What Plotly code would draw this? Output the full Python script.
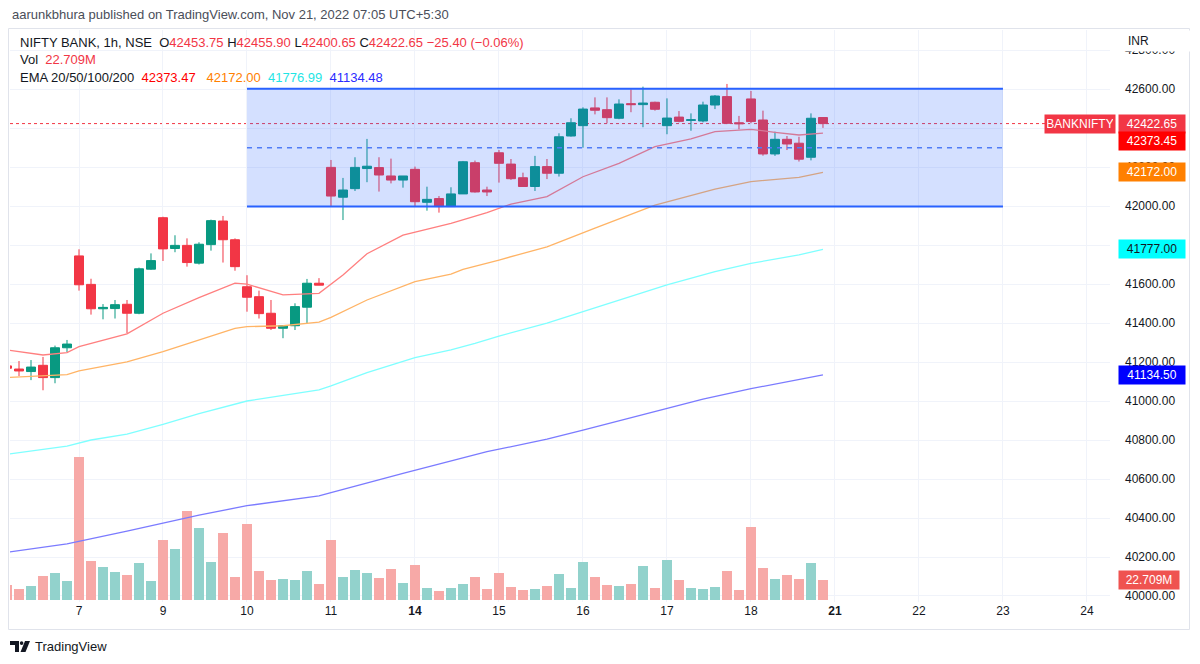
import plotly.graph_objects as go

# ---------------- data ----------------
day_labels = ["7", "9", "10", "11", "<b>14</b>", "15", "16", "17", "18", "<b>21</b>", "22", "23", "24"]
day_first_bar = [6, 13, 20, 27, 34, 41, 48, 55, 62, 69, 76, 83, 90]

opens = [41180, 41164, 41151, 41183, 41120, 41273,
         41744, 41598, 41473, 41474, 41496, 41450, 41676,
         41940, 41782, 41798, 41707, 41802, 41923, 41827,
         41586, 41535, 41450, 41373, 41386, 41481, 41604,
         42198, 42045, 42089, 42192, 42197, 42154, 42133,
         42188, 42019, 42038, 41997, 42062, 42222, 42082,
         42273, 42215, 42145, 42100, 42202, 42168, 42359,
         42412, 42503, 42494, 42450, 42525, 42520, 42532,
         42412, 42456, 42439, 42436, 42518, 42561, 42427,
         42549, 42441, 42267, 42342, 42322, 42250, 42453.75]
highs = [41195, 41205, 41210, 41226, 41284, 41313,
         41778, 41627, 41497, 41518, 41518, 41684, 41757,
         41945, 41850, 41834, 41814, 41930, 41949, 41834,
         41645, 41566, 41518, 41386, 41501, 41626, 41630,
         42236, 42144, 42250, 42344, 42250, 42243, 42154,
         42202, 42099, 42051, 42096, 42231, 42233, 42099,
         42287, 42241, 42171, 42257, 42241, 42373, 42450,
         42506, 42557, 42557, 42547, 42598, 42612, 42535,
         42552, 42487, 42475, 42535, 42569, 42626, 42462,
         42590, 42489, 42381, 42359, 42355, 42475, 42455.90]
lows = [41160, 41128, 41107, 41055, 41091, 41251,
        41566, 41443, 41419, 41423, 41347, 41445, 41672,
        41718, 41763, 41689, 41700, 41771, 41710, 41668,
        41458, 41423, 41364, 41322, 41364, 41398, 41594,
        41996, 41928, 42077, 42122, 42074, 42116, 42094,
        42000, 41976, 41966, 41997, 42062, 42069, 42051,
        42120, 42134, 42100, 42077, 42138, 42151, 42356,
        42299, 42470, 42424, 42445, 42481, 42404, 42489,
        42368, 42429, 42386, 42429, 42497, 42420, 42393,
        42424, 42258, 42257, 42287, 42228, 42234, 42400.65]
closes = [41168, 41154, 41174, 41120, 41273, 41292,
          41596, 41473, 41480, 41494, 41450, 41678, 41720,
          41780, 41798, 41710, 41804, 41925, 41827, 41689,
          41532, 41448, 41373, 41386, 41484, 41604, 41594,
          42051, 42082, 42198, 42204, 42159, 42133, 42154,
          42022, 42034, 41997, 42062, 42227, 42072, 42072,
          42219, 42140, 42100, 42202, 42168, 42355, 42427,
          42497, 42491, 42453, 42523, 42520, 42528, 42496,
          42451, 42434, 42442, 42518, 42564, 42424, 42422,
          42433, 42267, 42342, 42318, 42240, 42450, 42422.65]
volume_m = [16.7, 12.1, 15.9, 27.3, 30.7, 21.6,
            162.7, 44.3, 37.5, 31.8, 28.0, 41.6, 21.6,
            68.5, 57.5, 100.7, 82.1, 42.8, 75.7, 26.1,
            85.9, 33.3, 22.3, 24.2, 22.3, 33.3, 18.5,
            68.5, 26.1, 34.1, 30.7, 25.0, 35.2, 19.3,
            39.5, 13.2, 10.6, 14.0, 18.5, 26.1, 12.5,
            31.0, 15.1, 11.4, 12.0, 15.9, 29.9, 13.2,
            42.7, 26.1, 17.0, 15.9, 17.7, 39.0, 13.2,
            45.4, 22.7, 14.0, 12.0, 15.1, 32.5, 11.4,
            83.2, 36.3, 23.4, 28.7, 23.4, 42.0, 22.709]

ema20_idx = [0, 3, 5, 6, 10, 13, 16, 19, 20, 23, 26, 27, 28, 30, 33, 37, 40, 42, 45, 48, 51, 54, 57, 59, 62, 64, 66, 68]
ema20_val = [41262, 41236, 41248, 41279, 41344, 41450, 41530, 41604, 41599, 41544, 41552, 41600, 41646, 41755,
             41851, 41911, 41966, 42010, 42048, 42150, 42219, 42304, 42344, 42381, 42393, 42378, 42364, 42373.47]
ema50_idx = [0, 5, 6, 10, 13, 16, 19, 20, 23, 26, 27, 30, 34, 37, 38, 41, 45, 49, 54, 59, 62, 66, 68]
ema50_val = [41120, 41135, 41155, 41201, 41253, 41313, 41373, 41381, 41386, 41404, 41429, 41518, 41612,
             41651, 41675, 41723, 41791, 41887, 42005, 42086, 42125, 42147, 42172.00]
ema100_idx = [0, 5, 7, 10, 13, 16, 20, 23, 26, 27, 30, 34, 37, 39, 41, 45, 49, 55, 59, 62, 66, 68]
ema100_val = [40727, 40769, 40800, 40830, 40880, 40935, 41000, 41030, 41057, 41077, 41145, 41222, 41262,
              41296, 41333, 41399, 41479, 41595, 41663, 41706, 41749, 41776.99]
ema200_idx = [0, 5, 10, 16, 20, 26, 27, 33, 40, 45, 48, 55, 58, 62, 68]
ema200_val = [40224, 40267, 40333, 40415, 40463, 40513, 40530, 40629, 40740, 40804, 40851, 40963, 41009,
              41063, 41134.48]

channel_start, channel_end = 20, 83
channel_low, channel_high = 41997, 42601
last_price = 42422.65

# ---------------- geometry helpers (layout only) ----------------
PL, PR, PT, PB = 10, 1110, 30, 602


def px_x(px):
    return (px - PL) / (PR - PL)


def px_y(py):
    return (PB - py) / (PB - PT)


UP, DOWN = "#089981", "#F23645"
FONT = "Liberation Sans, Arial, sans-serif"
TXT = "#131722"

bar_idx = list(range(len(opens)))
vol_colors = ["#92D2CC" if c >= o else "#F7A9A7" for o, c in zip(opens, closes)]

fig = go.Figure()

# volume (base axis, drawn underneath)
fig.add_trace(go.Bar(x=bar_idx, y=volume_m, marker=dict(color=vol_colors, line=dict(width=0)),
                     width=0.85, yaxis="y", hoverinfo="skip", showlegend=False))

# EMA lines
for idx, val, col in [(ema200_idx, ema200_val, "#7B7BFF"),
                      (ema100_idx, ema100_val, "#7FFFFF"),
                      (ema50_idx, ema50_val, "#FFB466"),
                      (ema20_idx, ema20_val, "#FF7F7F")]:
    fig.add_trace(go.Scatter(x=idx, y=val, mode="lines", line=dict(color=col, width=1.3),
                             yaxis="y2", hoverinfo="skip", showlegend=False))

# parallel channel
fig.add_trace(go.Scatter(x=[channel_start, channel_end], y=[channel_low, channel_low], mode="lines",
                         line=dict(color="#2962FF", width=2), yaxis="y2", hoverinfo="skip", showlegend=False))
fig.add_trace(go.Scatter(x=[channel_start, channel_end], y=[channel_high, channel_high], mode="lines",
                         line=dict(color="#2962FF", width=2), fill="tonexty",
                         fillcolor="rgba(41,98,255,0.2)", yaxis="y2", hoverinfo="skip", showlegend=False))
mid = (channel_low + channel_high) / 2
fig.add_trace(go.Scatter(x=[channel_start, channel_end], y=[mid, mid], mode="lines",
                         line=dict(color="#4F7CF7", width=1.5, dash="5px,5px"), yaxis="y2",
                         hoverinfo="skip", showlegend=False))

# candles
fig.add_trace(go.Candlestick(x=bar_idx, open=opens, high=highs, low=lows, close=closes,
                             increasing=dict(line=dict(color=UP, width=1), fillcolor=UP),
                             decreasing=dict(line=dict(color=DOWN, width=1), fillcolor=DOWN),
                             whiskerwidth=0, yaxis="y2", hoverinfo="skip", showlegend=False))

shapes = [
    dict(type="line", xref="paper", x0=0, x1=1, yref="y2", y0=last_price, y1=last_price,
         line=dict(color=DOWN, width=1, dash="dot"), layer="below"),
    # outer frame
    dict(type="rect", xref="paper", yref="paper", x0=px_x(8.5), x1=px_x(1189.5), y0=px_y(629.5),
         y1=px_y(28.5), line=dict(color="#E0E3EB", width=1), fillcolor="rgba(0,0,0,0)"),
]


# TradingView logo
def pth(points):
    s = "M " + " L ".join(f"{px_x(a):.5f},{px_y(b):.5f}" for a, b in points) + " Z"
    return s


shapes.append(dict(type="path", xref="paper", yref="paper",
                   path=pth([(10, 641), (19, 641), (19, 652), (15, 652), (15, 645), (10, 645)]),
                   fillcolor=TXT, line=dict(width=0)))
shapes.append(dict(type="circle", xref="paper", yref="paper", x0=px_x(19.8), x1=px_x(23.4),
                   y0=px_y(645), y1=px_y(641.2), fillcolor=TXT, line=dict(width=0)))
shapes.append(dict(type="path", xref="paper", yref="paper",
                   path=pth([(25, 641), (30, 641), (25.5, 652), (20.5, 652)]),
                   fillcolor=TXT, line=dict(width=0)))

annotations = []


def red(s):
    return f"<span style='color:{DOWN}'>{s}</span>"


nb = "\u00a0"
annotations.append(dict(xref="paper", yref="paper", x=px_x(10), y=px_y(15), xanchor="left", yanchor="middle",
                        showarrow=False, font=dict(size=13, color="#4A4E59", family=FONT),
                        text="aarunkbhura published on TradingView.com, Nov 21, 2022 07:05 UTC+5:30"))
line1 = ("NIFTY BANK, 1h, NSE" + nb * 2 + "O" + red("42453.75") + nb + "H" + red("42455.90") + nb + "L"
         + red("42400.65") + nb + "C" + red("42422.65") + nb + red("\u221225.40 (\u22120.06%)"))
annotations.append(dict(xref="paper", yref="paper", x=px_x(18), y=px_y(43), xanchor="left", yanchor="middle",
                        showarrow=False, font=dict(size=13, color=TXT, family=FONT), text=line1))
annotations.append(dict(xref="paper", yref="paper", x=px_x(18), y=px_y(60), xanchor="left", yanchor="middle",
                        showarrow=False, font=dict(size=13, color=TXT, family=FONT),
                        text="Vol" + nb * 2 + red("22.709M")))
line3 = ("EMA 20/50/100/200" + nb * 2 + "<span style='color:#FF0000'>42373.47</span>" + nb * 3
         + "<span style='color:#FF8000'>42172.00</span>" + nb * 2
         + "<span style='color:#1FE5E5'>41776.99</span>" + nb * 2
         + "<span style='color:#2B2BFF'>41134.48</span>")
annotations.append(dict(xref="paper", yref="paper", x=px_x(18), y=px_y(77), xanchor="left", yanchor="middle",
                        showarrow=False, font=dict(size=13, color=TXT, family=FONT), text=line3))

# INR label (covers the clipped top tick)
annotations.append(dict(xref="paper", yref="paper", x=px_x(1124), y=px_y(41), xanchor="left", yanchor="middle",
                        showarrow=False, font=dict(size=12, color=TXT, family=FONT), text="INR",
                        bgcolor="white", width=62, align="left", borderpad=3))


# price-scale labels
def scale_label(text, yval, bg, fg="white", yref="y2", yshift=0, width=62):
    return dict(xref="paper", yref=yref, x=px_x(1118), y=yval, xanchor="left", yanchor="middle",
                showarrow=False, text=text, bgcolor=bg, font=dict(size=12, color=fg, family=FONT),
                width=width, height=14, borderpad=2, yshift=yshift, align="center")


annotations.append(dict(xref="paper", yref="y2", x=px_x(1116), y=last_price, xanchor="right", yanchor="middle",
                        showarrow=False, text="BANKNIFTY", bgcolor=DOWN,
                        font=dict(size=12, color="white", family=FONT), width=66, height=14, borderpad=2))
annotations.append(scale_label("42422.65", last_price, DOWN))
annotations.append(scale_label("42373.45", ema20_val[-1], "#FF0000", yshift=-8))
annotations.append(scale_label("42172.00", ema50_val[-1], "#FF8000"))
annotations.append(scale_label("41777.00", ema100_val[-1], "#00FFFF", fg=TXT))
annotations.append(scale_label("41134.50", ema200_val[-1], "#0000FF"))
annotations.append(scale_label("22.709M", volume_m[-1], "#EF5350", yref="y", width=56))

annotations.append(dict(xref="paper", yref="paper", x=px_x(33), y=px_y(646), xanchor="left", yanchor="middle",
                        showarrow=False, font=dict(size=13, color=TXT, family=FONT), text="TradingView"))

fig.update_layout(
    width=1200, height=664,
    margin=dict(l=PL, r=1200 - PR, t=PT, b=664 - PB, pad=0),
    paper_bgcolor="white", plot_bgcolor="white",
    font=dict(family=FONT, color=TXT, size=12),
    showlegend=False, bargap=0, boxgap=0.25, boxgroupgap=0,
    xaxis=dict(range=[0.25, 91.92], tickmode="array", tickvals=day_first_bar, ticktext=day_labels,
               showgrid=True, gridcolor="#F0F3FA", gridwidth=1, zeroline=False, showline=False,
               ticks="", tickfont=dict(size=12, color=TXT), rangeslider=dict(visible=False),
               fixedrange=True),
    yaxis=dict(range=[-2.27, 647], visible=False, showgrid=False, zeroline=False, fixedrange=True),
    yaxis2=dict(range=[39969.2, 42902.6], overlaying="y", side="right", anchor="x", dtick=200,
                tick0=40000, tickformat=".2f", showgrid=True, gridcolor="#F0F3FA", gridwidth=1,
                zeroline=False, showline=False, ticks="", ticklabelstandoff=14,
                tickfont=dict(size=12, color=TXT), fixedrange=True),
    shapes=shapes, annotations=annotations,
)

fig.write_html("out.html", config={"displayModeBar": False},
               post_script="document.body.style.margin='0';")
